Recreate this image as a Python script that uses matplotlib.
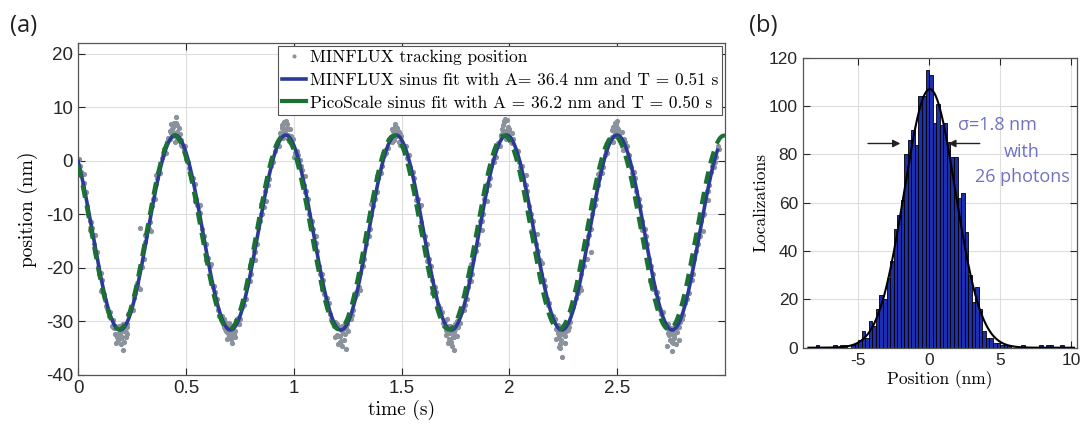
import numpy as np
import matplotlib
matplotlib.use('Agg')
import matplotlib.pyplot as plt

plt.rcParams['font.family'] = ['Liberation Sans', 'DejaVu Sans']
plt.rcParams['axes.unicode_minus'] = False

# ---- panel (a): MINFLUX tracking of a sinusoidal stage movement ----
T_START = 0.003      # s, first sample
SAMPLE_DT = 0.0128   # s, sampling interval (two interleaved read-outs)
TRACK_POS = [
    0.3, -2.1, -4.2, -8.5, -11.3, -12.6, -17.0, -19.8, -20.9, -24.8, -27.1, -28.9, -30.8, -32.4, -33.0,
    -32.1, -30.5, -31.9, -28.7, -27.3, -25.6, -22.9, -20.8, -19.9, -15.1, -12.5, -11.4, -7.1, -4.3, -1.9,
    0.6, 2.2, 3.5, 5.6, 6.3, 5.2, 4.1, 2.9, 2.0, 0.4,
    -1.3, -3.5, -4.4, -8.2, -9.8, -14.3, -15.5, -18.1, -22.6, -23.3, -25.8, -29.0, -28.9, -31.5, -32.2,
    -30.9, -32.6, -29.8, -30.4, -27.4, -26.9, -23.2, -22.5, -18.3, -17.0, -12.6, -9.9, -8.6, -4.5, -3.4,
    0.4, 1.9, 3.3, 5.1, 6.9, 5.9, 4.0, 3.5, 0.8, 1.8,
    0.2, -1.8, -5.9, -7.2, -11.5, -12.8, -15.4, -19.7, -21.1, -24.9, -25.7, -28.7, -30.2, -30.1, -32.8,
    -33.6, -30.8, -31.2, -29.0, -28.8, -25.5, -24.8, -21.0, -19.6, -15.5, -14.1, -10.1, -7.0, -5.8, -2.0,
    -0.9, 2.0, 2.3, 4.4, 5.7, 6.4, 5.3, 3.2, 2.2, 0.5,
    -1.2, -2.0, -5.8, -7.1, -11.4, -14.0, -15.6, -18.4, -22.3, -23.5, -27.0, -27.5, -30.3, -31.6, -30.8,
    -33.9, -32.0, -29.9, -30.3, -27.5, -26.9, -23.6, -22.4, -18.3, -16.9, -12.8, -11.2, -7.1, -4.4, -3.3,
    0.2, 0.7, 3.4, 4.6, 7.4, 5.6, 5.3, 3.3, 2.1, 1.9,
    -1.1, -3.3, -4.5, -8.4, -10.0, -13.9, -16.8, -18.5, -22.4, -23.4, -26.9, -28.8, -29.0, -31.5, -34.8,
    -32.3, -30.7, -31.0, -30.2, -27.4, -25.7, -24.7, -21.1, -19.6, -15.6, -13.9, -10.0, -8.3, -4.6, -2.1,
    -1.1, 1.9, 3.5, 3.9, 5.5, 6.1, 5.2, 2.1, 3.5, 0.6,
    -1.1, -2.1, -5.6, -7.2, -11.2, -12.7, -15.6, -19.7, -21.1, -24.7, -25.6, -28.6, -30.3, -31.3, -32.6,
    -33.9, -30.9, -29.9, -30.2, -28.8, -25.8, -24.6, -22.3, -18.4, -15.6, -14.0, -10.1, -7.3, -5.6, -2.1,
    -1.1, 0.8, 2.2,
]
# second read-out, half a sample later
TRACK_POS_MID = [
    -1.0, -4.6, -5.9, -9.9, -11.4, -15.6, -17.0, -21.1, -22.3, -26.0, -28.0, -28.3, -31.0, -32.3, -30.8,
    -33.1, -30.4, -31.0, -28.1, -27.9, -24.6, -23.6, -19.7, -18.3, -14.1, -12.7, -8.5, -7.1, -3.2, -2.3,
    1.1, 1.4, 4.2, 5.1, 7.0, 3.9, 5.0, 2.7, 2.8, -0.3,
    -2.2, -3.2, -7.1, -8.5, -12.8, -14.1, -18.3, -19.7, -23.6, -24.5, -27.9, -29.6, -29.5, -31.8, -30.9,
    -32.2, -31.8, -29.5, -29.6, -26.5, -25.9, -22.2, -21.1, -16.9, -15.5, -11.3, -9.9, -5.7, -4.6, -0.9,
    -0.3, 2.8, 2.7, 5.0, 5.4, 6.2, 3.6, 4.1, 1.4, 1.1,
    -0.9, -4.5, -5.7, -9.9, -11.3, -15.5, -16.9, -21.1, -22.2, -25.9, -26.5, -29.6, -30.9, -30.4, -32.8,
    -30.9, -32.4, -29.5, -29.6, -27.9, -24.5, -23.6, -19.7, -18.3, -14.1, -12.7, -8.5, -7.1, -3.2, -2.3,
    1.1, 1.4, 4.1, 3.6, 5.4, 5.4, 5.0, 2.7, 2.8, 1.1,
    -2.3, -3.2, -7.1, -8.5, -12.7, -14.1, -18.3, -19.6, -23.6, -24.5, -27.9, -28.2, -30.9, -31.8, -30.8,
    -33.0, -30.4, -31.0, -28.2, -27.9, -25.9, -22.2, -21.1, -16.9, -15.5, -11.3, -9.9, -5.7, -4.6, -0.9,
    -0.3, 2.8, 2.7, 5.0, 5.4, 6.0, 4.1, 4.1, 1.4, -0.3,
    -0.9, -4.6, -5.7, -9.9, -11.3, -15.5, -16.9, -21.1, -22.2, -25.9, -26.5, -29.6, -29.5, -32.2, -32.3,
    -30.8, -31.8, -31.0, -28.2, -26.5, -24.5, -23.6, -19.7, -18.3, -14.1, -12.7, -8.5, -7.1, -3.2, -2.3,
    1.1, 1.4, 4.1, 3.6, 6.1, 5.4, 3.6, 4.1, 2.8, 1.1,
    -2.3, -3.2, -7.1, -8.5, -12.7, -14.1, -18.3, -19.6, -23.6, -24.5, -27.9, -28.2, -30.9, -30.4, -32.2,
    -32.2, -30.4, -31.0, -29.6, -26.5, -25.9, -22.2, -21.1, -16.9, -15.5, -11.3, -9.9, -5.7, -4.6, -0.9,
    -0.3, 2.8,
]

# additional localizations around the turning points
TURN_T = [0.172, 0.180, 0.186, 0.190, 0.199, 0.203, 0.208, 0.214, 0.221, 0.228, 0.160,
          0.165, 0.176, 0.196, 0.212, 0.226, 0.206,
          0.683, 0.692, 0.700, 0.704, 0.711, 0.718, 0.724, 0.733, 0.741,
          0.678, 0.689, 0.698, 0.715, 0.729, 0.747,
          1.190, 1.201, 1.209, 1.214, 1.223, 1.229, 1.236, 1.246,
          1.193, 1.205, 1.218, 1.232, 1.241, 1.252,
          1.702, 1.711, 1.720, 1.727, 1.736, 1.742, 1.749, 1.758,
          1.706, 1.716, 1.731, 1.745, 1.755, 1.713,
          2.212, 2.221, 2.229, 2.235, 2.240, 2.249, 2.256, 2.265,
          2.216, 2.226, 2.237, 2.246, 2.259, 2.270,
          2.726, 2.735, 2.744, 2.750, 2.758, 2.764, 2.771, 2.780,
          2.732, 2.741, 2.752, 2.762, 2.776, 2.786,
          0.428, 0.436, 0.443, 0.448, 0.455, 0.461, 0.468, 0.476,
          0.432, 0.441, 0.452, 0.458, 0.472, 0.482,
          0.940, 0.948, 0.955, 0.960, 0.968, 0.974, 0.982,
          0.944, 0.951, 0.962, 0.971, 0.978, 0.987,
          1.452, 1.460, 1.468, 1.474, 1.481, 1.489, 1.497,
          1.456, 1.464, 1.472, 1.478, 1.486, 1.494,
          1.962, 1.971, 1.979, 1.985, 1.993, 2.001, 2.010,
          1.967, 1.976, 1.983, 1.990, 1.998, 2.006,
          2.474, 2.482, 2.490, 2.497, 2.505, 2.513, 2.520,
          2.478, 2.486, 2.494, 2.501, 2.509, 2.517,
          0.288, 2.380, 2.650]
TURN_Y = [-30.9, -32.6, -33.4, -31.2, -34.2, -32.9, -35.4, -31.8, -33.0, -30.4, -29.8,
          -31.2, -34.0, -33.0, -33.9, -32.3, -30.6,
          -30.2, -31.9, -32.8, -30.9, -33.2, -31.6, -32.4, -30.1, -29.3,
          -31.0, -33.2, -30.3, -34.0, -33.0, -30.5,
          -30.6, -32.5, -31.0, -33.8, -34.5, -32.2, -31.3, -30.4,
          -33.0, -34.2, -31.6, -33.4, -35.2, -31.8,
          -30.0, -31.7, -33.3, -32.1, -34.6, -33.0, -31.5, -30.2,
          -32.6, -34.1, -31.0, -35.3, -32.8, -29.6,
          -29.6, -31.4, -32.8, -35.0, -33.4, -31.8, -32.7, -30.3,
          -33.2, -30.6, -34.3, -36.6, -34.0, -31.6,
          -30.8, -32.2, -33.5, -31.3, -34.0, -32.6, -34.3, -31.0,
          -34.5, -31.2, -35.6, -33.1, -32.0, -33.5,
          4.1, 5.9, 6.6, 3.5, 8.1, 5.4, 6.2, 3.9,
          6.9, 4.6, 7.0, 6.6, 5.0, 2.8,
          4.5, 6.1, 7.2, 5.3, 6.8, 4.8, 5.9,
          6.6, 4.3, 7.5, 6.0, 3.7, 4.6,
          4.0, 5.6, 6.4, 4.7, 5.9, 3.6, 4.6,
          5.9, 3.9, 6.8, 6.1, 5.1, 2.9,
          4.8, 6.7, 7.8, 5.6, 6.4, 4.2, 5.1,
          5.9, 7.2, 4.1, 7.6, 5.9, 3.5,
          4.4, 6.3, 7.1, 5.0, 6.0, 4.1, 5.4,
          5.7, 4.6, 6.6, 7.4, 5.2, 3.3,
          -12.6, -17.0, -22.5]

# scattered localizations along the slopes
SLOPE_T = [0.029, 0.054, 0.080, 0.105, 0.285, 0.310, 0.336, 0.361,
           0.541, 0.566, 0.592, 0.617, 0.797, 0.822, 0.848, 0.873,
           1.053, 1.078, 1.104, 1.129, 1.309, 1.334, 1.360, 1.385,
           1.565, 1.590, 1.616, 1.641, 1.821, 1.846, 1.872, 1.897,
           2.077, 2.102, 2.128, 2.153, 2.333, 2.358, 2.384, 2.409,
           2.589, 2.614, 2.640, 2.665, 2.845, 2.870, 2.896, 2.921]
SLOPE_Y = [-2.4, -13.0, -13.9, -24.3, -24.0, -13.8, -13.1, -2.6,
           -7.6, -8.3, -18.6, -19.2, -19.4, -18.5, -8.1, -7.5,
           -2.9, -12.8, -14.0, -23.9, -24.1, -13.7, -8.0, -2.8,
           -7.4, -8.2, -18.8, -24.6, -19.3, -13.9, -13.0, -7.6,
           -2.7, -13.1, -13.6, -19.1, -24.2, -18.4, -8.3, -2.5,
           -7.8, -12.9, -18.7, -24.0, -19.5, -13.6, -13.2, -7.3]

# sine fit parameters (A = peak-to-peak amplitude)
MINFLUX_A, MINFLUX_T, MINFLUX_OFFSET, MINFLUX_TMIN, MINFLUX_TEND = 36.4, 0.512, -13.4, 0.195, 2.965
PICO_A, PICO_T, PICO_OFFSET, PICO_TMIN, PICO_TEND = 36.2, 0.510, -13.4, 0.190, 3.0

LABELS = ['MINFLUX tracking position',
          'MINFLUX sinus fit with A= 36.4 nm and T = 0.51 s',
          'PicoScale sinus fit with A = 36.2 nm and T = 0.50 s']

# ---- panel (b): localization histogram ----
BIN_WIDTH = 0.25
BIN_LEFT = -8.0
COUNTS = [1, 0, 0, 0, 0, 1, 0, 1, 1, 0, 1, 2, 3, 7, 4, 11, 9, 16, 22, 20, 29, 36, 49, 55,
          61, 80, 86, 90, 84, 104, 104, 115, 113, 93, 101, 92, 93, 85, 79, 79, 62, 64, 48, 30,
          19, 25, 16, 7, 4, 4, 2, 2, 1, 1, 1, 0, 0, 0, 1, 0, 0, 0, 0, 1, 0, 1, 1, 0, 0, 1, 0, 0]
GAUSS_PEAK, GAUSS_MU, GAUSS_SIGMA = 107.0, 0.05, 1.8

c_dots = '#8a929c'
c_blue = '#2b3a98'
c_green = '#1b7033'
c_bar = '#1c2fae'
c_note = '#6f72c2'
c_axis = '#262626'
cm_font = 'cmr10'
note_font = ['Open Sans', 'DejaVu Sans']


def sine(t, a, period, offset, tmin):
    return offset - a / 2.0 * np.cos(2 * np.pi * (t - tmin) / period)


fig = plt.figure(figsize=(10.81, 4.30), dpi=100)
ax = fig.add_axes([0.0722, 0.128, 0.5985, 0.772])
bx = fig.add_axes([0.7426, 0.1914, 0.2535, 0.6744])

t_track = T_START + SAMPLE_DT * np.arange(len(TRACK_POS))
t_mid = T_START + SAMPLE_DT / 2 + SAMPLE_DT * np.arange(len(TRACK_POS_MID))
t_all = np.concatenate([t_track, t_mid, TURN_T, SLOPE_T])
y_all = np.concatenate([TRACK_POS, TRACK_POS_MID, TURN_Y, SLOPE_Y])
ax.plot(t_all, y_all, '.', color=c_dots, markersize=5.5, label=LABELS[0], zorder=2)

t_fit = np.linspace(0, MINFLUX_TEND, 800)
ax.plot(t_fit, sine(t_fit, MINFLUX_A, MINFLUX_T, MINFLUX_OFFSET, MINFLUX_TMIN),
        color=c_blue, lw=2.6, label=LABELS[1], zorder=3)
t_fit = np.linspace(0, PICO_TEND, 800)
ax.plot(t_fit, sine(t_fit, PICO_A, PICO_T, PICO_OFFSET, PICO_TMIN),
        color=c_green, lw=3.0, dashes=(3.0, 2.0), label=LABELS[2], zorder=4)

ax.set_xlim(0, 3.0)
ax.set_ylim(-40, 22)
ax.set_xticks([0, 0.5, 1, 1.5, 2, 2.5])
ax.set_xticklabels(['0', '0.5', '1', '1.5', '2', '2.5'])
ax.set_yticks(range(-40, 21, 10))
ax.set_xlabel('time (s)', family=cm_font, fontsize=14, labelpad=2)
ax.set_ylabel('position (nm)', family=cm_font, fontsize=14)
ax.yaxis.set_label_coords(-0.062, 0.5)

leg = ax.legend(loc='upper right', prop={'family': cm_font, 'size': 12.5},
                frameon=True, fancybox=False, edgecolor='#555555', framealpha=1,
                handlelength=1.4, handletextpad=0.2, labelspacing=0.42,
                borderaxespad=0.15, borderpad=0.25, markerscale=0.7)
leg.get_frame().set_linewidth(0.8)
leg.get_lines()[2].set_linestyle('-')

# ---- histogram ----
edges = BIN_LEFT + BIN_WIDTH * np.arange(len(COUNTS) + 1)
bx.bar(edges[:-1], COUNTS, width=BIN_WIDTH, align='edge', color=c_bar,
       edgecolor='black', linewidth=0.6, zorder=2)
xg = np.linspace(-8.5, 10.2, 600)
bx.plot(xg, GAUSS_PEAK * np.exp(-(xg - GAUSS_MU) ** 2 / (2 * GAUSS_SIGMA ** 2)),
        color='black', lw=1.5, zorder=3)

bx.set_xlim(-8.9, 10.4)
bx.set_ylim(0, 120)
bx.set_xticks([-5, 0, 5, 10])
bx.set_yticks(range(0, 121, 20))
bx.set_xlabel('Position (nm)', family=cm_font, fontsize=12.5, labelpad=2)
bx.set_ylabel('Localizations', family=cm_font, fontsize=12.5)
bx.yaxis.set_label_coords(-0.127, 0.5)

bx.annotate('', xy=(-1.83, 84.5), xytext=(-4.5, 84.5),
            arrowprops=dict(arrowstyle='-|>', color='#222222', lw=1.0, mutation_scale=11), zorder=5)
bx.annotate('', xy=(1.15, 84.5), xytext=(3.76, 84.5),
            arrowprops=dict(arrowstyle='-|>', color='#222222', lw=1.0, mutation_scale=11), zorder=5)
bx.text(4.8, 92, '\u03c3=1.8 nm', color=c_note, fontsize=13, family=note_font, ha='center', va='center')
bx.text(6.5, 81, 'with', color=c_note, fontsize=13, family=note_font, ha='center', va='center')
bx.text(6.6, 70.5, '26 photons', color=c_note, fontsize=13, family=note_font, ha='center', va='center')

for a, fs in ((ax, 13.5), (bx, 12.5)):
    a.grid(True, color='#dddddd', lw=0.8, zorder=0)
    a.set_axisbelow(True)
    a.tick_params(direction='in', top=True, right=True, labelsize=fs, colors=c_axis,
                  length=5, width=0.8)
    for s in a.spines.values():
        s.set_color('#555555')
        s.set_linewidth(0.9)

fig.text(0.009, 0.94, '(a)', fontsize=17, family=note_font, va='center', color='#222222')
fig.text(0.693, 0.94, '(b)', fontsize=17, family=note_font, va='center', color='#222222')

fig.savefig('out.png', dpi=100)
